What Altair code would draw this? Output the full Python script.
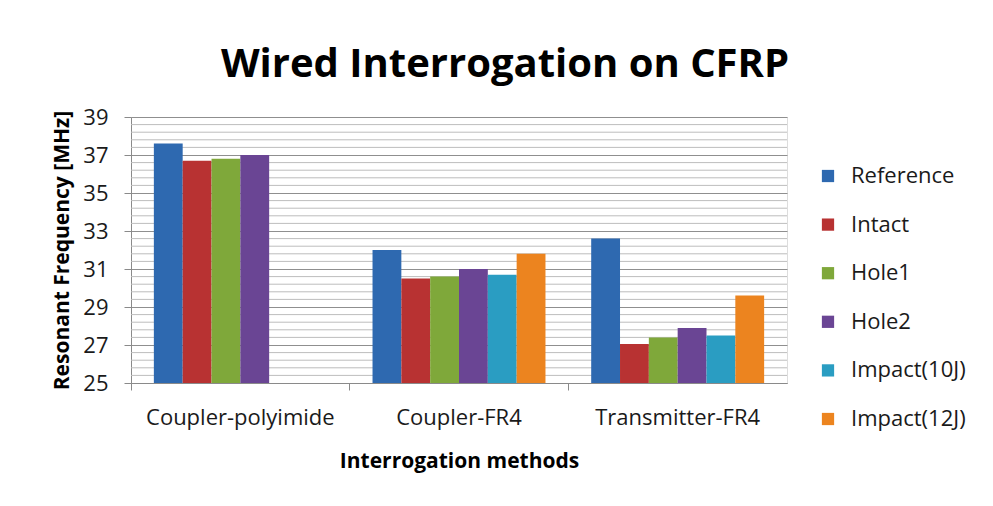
import altair as alt
import pandas as pd

methods = ["Coupler-polyimide", "Coupler-FR4", "Transmitter-FR4"]
series = ["Reference", "Intact", "Hole1", "Hole2", "Impact(10J)", "Impact(12J)"]
colors = ["#2E69B0", "#B83232", "#7FA83A", "#6A4594", "#2A9DC2", "#EC841F"]

# values per series for each method (None = not measured)
reference = [37.6, 32.0, 32.6]
intact = [36.7, 30.5, 27.05]
hole1 = [36.8, 30.6, 27.4]
hole2 = [37.0, 31.0, 27.9]
impact10 = [None, 30.7, 27.5]
impact12 = [None, 31.8, 29.6]

major_ticks = [25, 27, 29, 31, 33, 35, 37, 39]
minor_grid = [25.4, 25.8, 26.2, 26.6, 27.4, 27.8, 28.2, 28.6, 29.4, 29.8, 30.2, 30.6,
              31.4, 31.8, 32.2, 32.6, 33.4, 33.8, 34.2, 34.6, 35.4, 35.8, 36.2, 36.6,
              37.4, 37.8, 38.2, 38.6]

rows = []
for s, vals in zip(series, [reference, intact, hole1, hole2, impact10, impact12]):
    for m, v in zip(methods, vals):
        if v is not None:
            rows.append({"method": m, "series": s, "value": v})
df = pd.DataFrame(rows)
grid_df = pd.DataFrame({"g": minor_grid})

FONT = "Open Sans"
W, H = 656, 266

y_scale = alt.Scale(domain=[25, 39], nice=False, zero=False)
y_axis = alt.Axis(title="Resonant Frequency [MHz]", values=major_ticks,
                  labelOverlap=False,
                  grid=True, gridColor="#8f8f8f", tickSize=7,
                  tickColor="#8a8a8a", domainColor="#8a8a8a",
                  labelFontSize=22, labelPadding=16, labelColor="#1a1a1a",
                  titleFontSize=21, titleFontWeight="bold", titlePadding=10,
                  titleColor="#000000", labelFont=FONT, titleFont=FONT)

grid = alt.Chart(grid_df).mark_rule(color="#bdbdbd", strokeWidth=1).encode(
    y=alt.Y("g:Q", scale=y_scale, axis=y_axis, title="Resonant Frequency [MHz]")
)

bars = alt.Chart(df).mark_bar().encode(
    x=alt.X("method:N", sort=methods,
            scale=alt.Scale(paddingInner=0, paddingOuter=0),
            axis=alt.Axis(title="Interrogation methods", labelAngle=0, bandPosition=0,
                          tickSize=7, tickColor="#8a8a8a", domainColor="#8a8a8a",
                          labelFontSize=22, labelPadding=17, labelColor="#1a1a1a",
                          labelLimit=400,
                          titleFontSize=21, titleFontWeight="bold", titlePadding=22,
                          titleColor="#000000", labelFont=FONT, titleFont=FONT)),
    xOffset=alt.XOffset("series:N", sort=series,
                        scale=alt.Scale(domain=series, paddingInner=0, paddingOuter=0.793)),
    y=alt.Y("value:Q", scale=y_scale, axis=y_axis, title="Resonant Frequency [MHz]"),
    y2=alt.datum(25),
    color=alt.Color("series:N", sort=series,
                    scale=alt.Scale(domain=series, range=colors),
                    legend=alt.Legend(title=None, orient="none", legendX=686, legendY=48,
                                      symbolType="square", symbolSize=150,
                                      symbolStrokeWidth=0, labelFontSize=22,
                                      labelFont=FONT, labelColor="#1a1a1a",
                                      rowPadding=26.6, labelOffset=12)),
)

chart = alt.layer(grid, bars).properties(
    width=W, height=H,
    title=alt.Title("Wired Interrogation on CFRP", fontSize=40, font=FONT,
                    fontWeight="bold", color="#000000", anchor="middle",
                    frame="group", dx=46, offset=21),
    autosize=alt.AutoSizeParams(type="none"),
    padding={"left": 123, "top": 109, "right": 198, "bottom": 100},
).configure_view(stroke=None).configure(background="white")

chart.save("out.html", embed_options={"renderer": "svg", "actions": False})
